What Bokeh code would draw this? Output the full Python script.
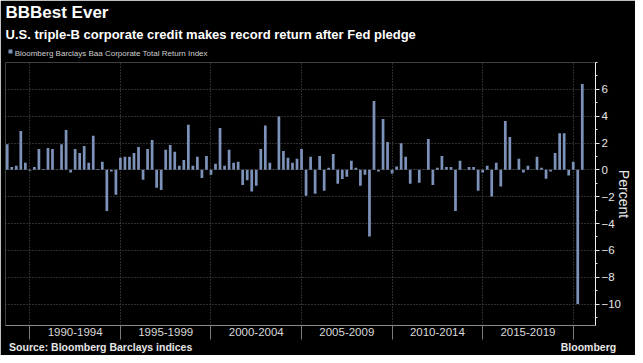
import pandas as pd
from bokeh.plotting import figure
from bokeh.models import (Range1d, FixedTicker, ColumnDataSource, Title,
                          LinearAxis)
from bokeh.embed import file_html
from bokeh.resources import INLINE

# ---- data (quarterly total returns, %) ----
first_quarter = "1988Q3"
last_quarter = "2020Q2"
returns = [
    1.90, 0.22, 0.30, 2.90, 0.52, -0.07, 0.22, 1.56, 0.07, 1.63,
    1.56, 0.02, 1.90, 2.97, -0.20, 1.56, 1.26, 1.78, 0.52, 2.55,
    0.07, 0.60, -3.07, -0.12, -1.86, 0.90, 0.97, 0.97, 1.26, 1.71,
    -0.74, 1.56, 2.23, -1.34, -1.51, 1.49, 1.86, 1.34, 0.30, 0.74,
    3.37, 0.30, 0.97, -0.60, 1.04, -0.37, 0.45, 3.12, 0.30, 1.49,
    0.52, 0.60, -1.12, -0.77, -1.61, -1.19, 1.56, 3.30, 0.52, 0.03,
    3.97, 1.41, 0.90, 0.52, 0.82, 1.56, -1.93, 0.97, -1.78, 1.04,
    -1.56, 0.15, 1.19, -1.04, -0.69, -0.52, 0.67, 0.15, -1.19, -0.37,
    -4.96, 5.13, -0.12, 3.79, 2.08, -0.27, 0.25, 1.98, 0.97, -1.04,
    0.02, -0.97, 0.02, 2.30, -1.12, 0.15, 1.04, 0.22, 0.22, -3.07,
    0.67, 0.02, 0.22, 0.22, -1.56, -0.20, 0.30, -1.98, 0.52, -1.24,
    3.64, 2.45, 0.02, 0.82, -0.20, 0.30, 0.02, 0.97, 0.15, -0.67,
    -0.12, 1.26, 2.73, 2.73, -0.42, 0.60, -10.00, 6.40,
]
series_name = "Bloomberg Barclays Baa Corporate Total Return Index"
period_starts = [1990, 1995, 2000, 2005, 2010, 2015, 2020]
period_labels = ["1990-1994", "1995-1999", "2000-2004", "2005-2009",
                 "2010-2014", "2015-2019"]
y_ticks = [-10, -8, -6, -4, -2, 0, 2, 4, 6]
y_grid = [-10, -8, -6, -4, -2, 0, 2, 4, 6, 8]
y_minor = [-11, -9, -7, -5, -3, -1, 1, 3, 5, 7, 8]

# positions (in x data units) of the header / footer text rows
legend_text_at = 1994.49
legend_swatch_at = 1988.948
footer_texts = {1993.91: "Source: Bloomberg Barclays indices", 2020.84: "Bloomberg"}

quarters = pd.period_range(first_quarter, last_quarter, freq="Q")
x_pos = [q.year + q.quarter / 4.0 for q in quarters]  # quarter-end position

BAR = "#7d92b9"
GRID = "#5a5a5a"
FONT = "Liberation Sans"

p = figure(width=635, height=355, output_backend="svg", toolbar_location=None,
           title=None,
           x_range=Range1d(1988.655, 2021.23), y_range=Range1d(-11.6, 8),
           background_fill_color="black", border_fill_color="black",
           outline_line_color=None, y_axis_location="right",
           min_border_left=5, min_border_right=0, min_border_top=0,
           min_border_bottom=0)

src = ColumnDataSource(dict(x=x_pos, top=returns))
bars = p.vbar(x="x", top="top", bottom=0, width=0.15, source=src,
              fill_color=BAR, line_color=None)

# grids
p.xgrid.ticker = FixedTicker(ticks=period_starts)
p.ygrid.ticker = FixedTicker(ticks=y_grid)
for g in (p.xgrid, p.ygrid):
    g.grid_line_color = GRID
    g.grid_line_dash = "1 2"
    g.grid_line_width = 1

# x axis
mids = [s + 2.5 for s in period_starts[:-1]]
xa = p.xaxis[0]
xa.ticker = FixedTicker(ticks=mids, minor_ticks=period_starts)
xa.major_label_overrides = {m: lab for m, lab in zip(mids, period_labels)}
xa.major_tick_out = 0
xa.major_tick_in = 0
xa.minor_tick_out = 14
xa.minor_tick_in = 0
xa.minor_tick_line_color = "#7a7a7a"
xa.axis_line_color = "#8a8a8a"
xa.major_label_standoff = -12
xa.major_label_text_font = FONT
xa.major_label_text_font_size = "11.5px"
xa.major_label_text_color = "#d9d9d9"

# footer row (source + logo text) as a tick-less axis under the x axis
fa = LinearAxis(ticker=FixedTicker(ticks=list(footer_texts.keys())),
                major_label_overrides=footer_texts,
                axis_line_color=None, major_tick_line_color=None,
                minor_tick_line_color=None, major_tick_out=0, major_tick_in=0,
                minor_tick_out=0, minor_tick_in=0, major_label_standoff=2,
                major_label_text_font=FONT, major_label_text_font_size="10.5px",
                major_label_text_font_style="bold",
                major_label_text_color="#e6e6e6")
p.add_layout(fa, "below")

# y axis (right)
ya = p.yaxis[0]
ya.ticker = FixedTicker(ticks=y_ticks, minor_ticks=y_minor)
ya.major_tick_out = 4
ya.major_tick_in = 0
ya.minor_tick_out = 2
ya.minor_tick_in = 0
ya.major_tick_line_color = "#e6e6e6"
ya.minor_tick_line_color = "#e6e6e6"
ya.axis_line_color = "#f0f0f0"
ya.major_label_standoff = 2
ya.major_label_text_font = FONT
ya.major_label_text_font_size = "11.5px"
ya.major_label_text_color = "#e6e6e6"
ya.axis_label = "Percent"
ya.axis_label_text_font = FONT
ya.axis_label_text_font_size = "14px"
ya.axis_label_text_font_style = "normal"
ya.axis_label_text_color = "#e6e6e6"
ya.axis_label_standoff = -8

# legend row: a tick-less axis above the plot; the swatch is a wide minor tick
la = LinearAxis(ticker=FixedTicker(ticks=[legend_text_at], minor_ticks=[legend_swatch_at]),
                major_label_overrides={legend_text_at: series_name},
                axis_line_color=None, major_tick_line_color=None,
                major_tick_out=0, major_tick_in=0,
                minor_tick_line_color=BAR, minor_tick_line_width=4,
                minor_tick_out=13, minor_tick_in=-9,
                major_label_standoff=-8, major_label_text_font=FONT,
                major_label_text_font_size="8px",
                major_label_text_color="#cfcfcf")
p.add_layout(la, "above")

p.add_layout(Title(text="U.S. triple-B corporate credit makes record return after Fed pledge",
                   align="left", text_font=FONT, text_font_size="13px",
                   text_font_style="bold", text_color="#ffffff", standoff=7),
             "above")
p.add_layout(Title(text="BBBest Ever", align="left", text_font=FONT,
                   text_font_size="17px", text_font_style="bold",
                   text_color="#ffffff", standoff=0), "above")

open("out.html", "w").write(file_html(p, INLINE))
